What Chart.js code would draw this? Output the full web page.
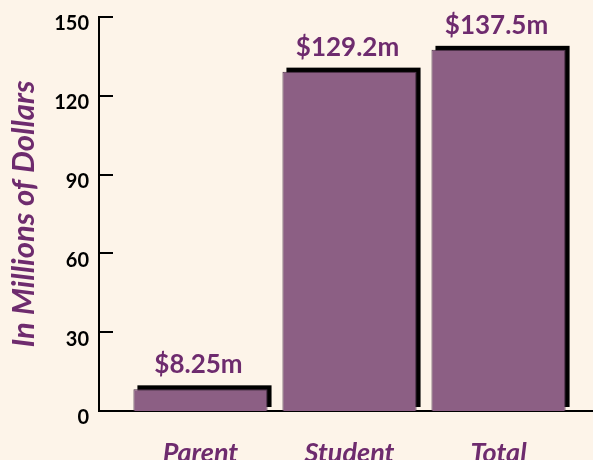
<!DOCTYPE html>
<html>
<head>
<meta charset="utf-8">
<script src="https://cdn.jsdelivr.net/npm/chart.js@4"></script>
<style>
  html, body { margin: 0; padding: 0; background: #fdf4e9; }
  #wrap { width: 593px; height: 460px; }
</style>
</head>
<body>
<div id="wrap"><canvas id="c" width="593" height="460"></canvas></div>
<script>
const categories = ['Parent', 'Student', 'Total'];
const values = [8.25, 129.2, 137.5];
const valueLabels = ['$8.25m', '$129.2m', '$137.5m'];
const yTicks = [0, 30, 60, 90, 120, 150];
const yTitle = 'In Millions of Dollars';

const BG = '#fdf4e9';
const BAR = '#8c5f84';
const TEXT = '#6e2b6e';

const bgPlugin = {
  id: 'bg',
  beforeDraw(chart) {
    const ctx = chart.ctx;
    ctx.save();
    ctx.fillStyle = BG;
    ctx.fillRect(0, 0, chart.width, chart.height);
    ctx.restore();
  }
};

const shadowPlugin = {
  id: 'shadow',
  beforeDatasetDraw(chart, args) {
    const ctx = chart.ctx;
    ctx.save();
    ctx.fillStyle = '#000';
    args.meta.data.forEach(el => {
      const p = el.getProps(['x', 'y', 'base', 'width'], true);
      const left = p.x - p.width / 2 + 4;
      const top = p.y - 4;
      ctx.fillRect(left, top, p.width, p.base - p.y);
    });
    ctx.restore();
  }
};

const extrasPlugin = {
  id: 'extras',
  afterDraw(chart) {
    const ctx = chart.ctx;
    const y = chart.scales.y;
    const area = chart.chartArea;
    ctx.save();
    ctx.strokeStyle = '#000';
    ctx.lineWidth = 2;
    y.ticks.forEach(t => {
      const py = Math.round(y.getPixelForValue(t.value));
      ctx.beginPath();
      ctx.moveTo(area.left, py);
      ctx.lineTo(area.left + 14, py);
      ctx.stroke();
    });
    const meta = chart.getDatasetMeta(0);
    ctx.fillStyle = TEXT;
    ctx.font = 'bold 26px Lato';
    ctx.textAlign = 'center';
    ctx.textBaseline = 'alphabetic';
    meta.data.forEach((el, i) => {
      ctx.fillText(valueLabels[i], el.x - 2, el.y - 16);
    });
    ctx.restore();
  }
};

new Chart(document.getElementById('c'), {
  type: 'bar',
  data: {
    datasets: [{
      data: values.map((v, i) => ({ x: i, y: v })),
      backgroundColor: BAR,
      borderColor: '#4d3049',
      borderWidth: 1,
      borderSkipped: 'bottom',
      categoryPercentage: 0.9,
      barPercentage: 1.0
    }]
  },
  options: {
    responsive: false,
    animation: false,
    layout: { padding: { top: 17, right: 0, bottom: 0, left: 0 } },
    plugins: { legend: { display: false }, tooltip: { enabled: false } },
    scales: {
      x: {
        type: 'linear',
        offset: false,
        bounds: 'data',
        min: -0.681,
        max: 2.634,
        grid: { display: false, drawTicks: false, offset: false },
        border: { display: true, color: '#000', width: 2 },
        afterBuildTicks(scale) {
          scale.ticks = categories.map((c, i) => ({ value: i }));
        },
        afterFit(scale) {
          scale.height = 49;
          scale.paddingLeft = 0;
          scale.paddingRight = 0;
        },
        ticks: {
          padding: 26,
          autoSkip: false,
          maxRotation: 0,
          color: TEXT,
          font: { family: 'Lato', size: 27, weight: 'bold', style: 'italic' },
          callback: (v) => categories[v] !== undefined ? categories[v] : ''
        }
      },
      y: {
        min: 0,
        max: 150,
        grid: { display: false, drawTicks: false },
        border: { display: true, color: '#000', width: 2 },
        afterBuildTicks(scale) {
          scale.ticks = yTicks.map(v => ({ value: v }));
        },
        afterFit(scale) {
          scale.width = 99;
          scale.paddingTop = 0;
          scale.paddingBottom = 0;
        },
        ticks: {
          padding: 10,
          labelOffset: 7,
          color: '#000',
          font: { family: 'Lato', size: 20, weight: 'bold' }
        },
        title: {
          display: true,
          text: yTitle,
          color: TEXT,
          padding: { top: 5, bottom: 0 },
          font: { family: 'Lato', size: 31, weight: 'bold', style: 'italic' }
        }
      }
    }
  },
  plugins: [bgPlugin, shadowPlugin, extrasPlugin]
});
</script>
</body>
</html>
